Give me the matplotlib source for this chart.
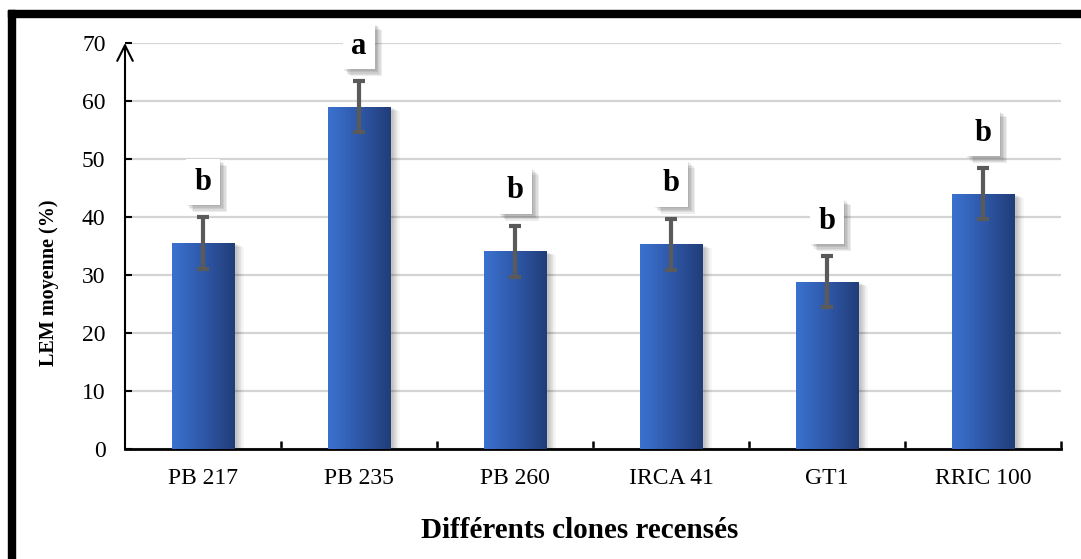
import matplotlib.pyplot as plt
import matplotlib.patheffects as pe
from matplotlib.patches import Rectangle
from matplotlib.colors import LinearSegmentedColormap
import numpy as np

plt.rcParams['font.family'] = ['Liberation Serif', 'DejaVu Serif']

clones = ['PB 217', 'PB 235', 'PB 260', 'IRCA 41', 'GT1', 'RRIC 100']
lem_mean = [35.5, 59.0, 34.1, 35.3, 28.8, 44.0]
lem_err = [4.5, 4.4, 4.4, 4.4, 4.4, 4.4]
groups = ['b', 'a', 'b', 'b', 'b', 'b']
yticks = [0, 10, 20, 30, 40, 50, 60, 70]

fig = plt.figure(figsize=(10.81, 5.59), dpi=100)
W, H = 1081, 559
ax = fig.add_axes([125 / W, 1 - 449 / H, 936 / W, 406 / H])

# black frame on top and left of the figure
fig.patches.append(Rectangle((8 / W, 0), 7 / W, 1 - 10 / H, transform=fig.transFigure,
                             color='black', zorder=10))
fig.patches.append(Rectangle((8 / W, 1 - 17 / H), 1 - 8 / W, 7 / H, transform=fig.transFigure,
                             color='black', zorder=10))

x = np.arange(len(clones))
bw = 0.4
cmap = LinearSegmentedColormap.from_list('bar', ['#3a72d0', '#2f58a8', '#213d78'])
grad = np.linspace(0, 1, 256).reshape(1, -1)

for xi, v in zip(x, lem_mean):
    # soft shadow on the right side of the bar
    for k in range(1, 9):
        off = k * 0.0075
        ax.add_patch(Rectangle((xi - bw / 2 + off, 0), bw, v - k * 0.08,
                               color='black', alpha=0.035, lw=0, zorder=2))
    rect = Rectangle((xi - bw / 2, 0), bw, v, facecolor='none', lw=0, zorder=3)
    ax.add_patch(rect)
    im = ax.imshow(grad, cmap=cmap, aspect='auto', zorder=3,
                   extent=(xi - bw / 2, xi + bw / 2, 0, v))
    im.set_clip_path(rect)

ax.errorbar(x, lem_mean, yerr=lem_err, fmt='none', ecolor='#5a5a5a',
            elinewidth=3, capsize=4.5, capthick=3, zorder=4)

# significance letters in white boxes with a soft drop shadow
box_shadow = [pe.SimplePatchShadow(offset=(d, -d), shadow_rgbFace='#000000', alpha=0.07)
              for d in (5, 4, 3, 2, 1)] + [pe.Normal()]
for xi, v, e, g in zip(x, lem_mean, lem_err, groups):
    t = ax.annotate(g, (xi, v + e), xytext=(0, 35), textcoords='offset pixels',
                    ha='center', va='center', fontsize=22, fontweight='bold', zorder=5,
                    bbox=dict(boxstyle='square,pad=0.28', fc='white', ec='none'))
    t.get_bbox_patch().set_path_effects(box_shadow)

ax.set_xlim(-0.5, len(clones) - 0.5)
ax.set_ylim(0, 70)
ax.set_yticks(yticks)
ax.grid(axis='y', color='#d4d4d4', lw=1.6, zorder=0)
ax.set_axisbelow(True)

ax.set_xticks(x)
ax.set_xticklabels(clones)
ax.set_xticks(x + 0.5, minor=True)
ax.tick_params(axis='x', which='major', length=0, pad=14, labelsize=17)
ax.tick_params(axis='x', which='minor', direction='in', length=6, width=1.8)
ax.tick_params(axis='y', direction='in', length=5, width=1.5, pad=14, labelsize=17)

for s in ['top', 'right', 'left']:
    ax.spines[s].set_visible(False)
ax.spines['bottom'].set_linewidth(2)

# y axis drawn as an arrow
ax.annotate('', xy=(0, 1.0), xytext=(0, 0), xycoords='axes fraction',
            arrowprops=dict(arrowstyle='->', lw=1.5, color='black', mutation_scale=28,
                            shrinkA=0, shrinkB=0), annotation_clip=False)

ax.set_ylabel('LEM moyenne (%)', fontsize=14.5, fontweight='bold', va='center')
ax.yaxis.set_label_coords(-0.081, 0.41)
ax.set_xlabel('Différents clones recensés', fontsize=21, fontweight='bold', va='center')
ax.xaxis.set_label_coords(0.486, -0.2)

fig.savefig('out.png', dpi=100)
